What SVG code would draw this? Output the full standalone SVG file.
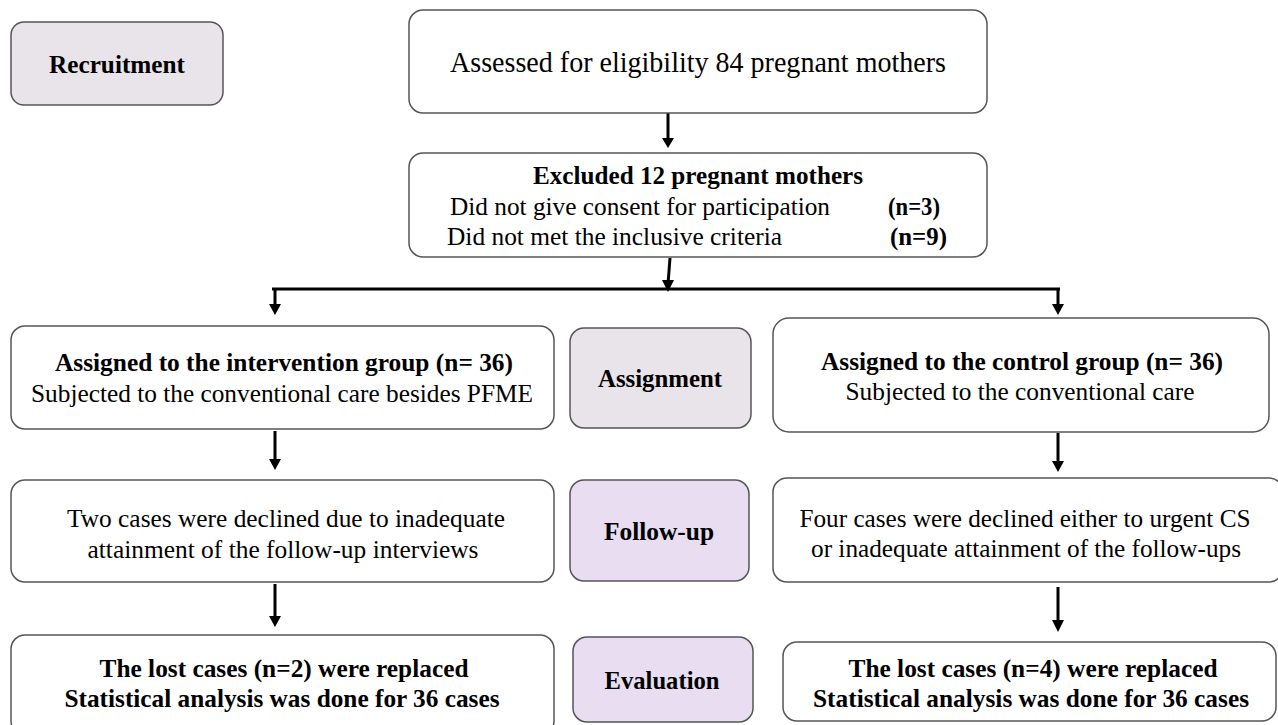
<svg xmlns="http://www.w3.org/2000/svg" width="1278" height="725" viewBox="0 0 1278 725">
<style>
.box{fill:#fff;stroke:#555;stroke-width:1.5}
.lab{fill:#e8e4ea;stroke:#555;stroke-width:1.5}
.lab2{fill:#e9ddf2;stroke:#555;stroke-width:1.5}
.b{font-weight:bold}
.c{stroke:#000;stroke-width:3;fill:none}
</style>
<rect width="1278" height="725" fill="#fff"/>
<g id="connectors">
<line class="c" x1="668" y1="113" x2="668" y2="140"/><path d="M662,138 L674,138 L668,148 Z"/>
<line class="c" x1="670" y1="258" x2="668" y2="284"/><path d="M662,280 L674,280 L668,292 Z"/>
<line class="c" x1="272" y1="289" x2="1060" y2="289"/>
<line class="c" x1="275" y1="289" x2="275" y2="306"/><path d="M269,304 L281,304 L275,315 Z"/>
<line class="c" x1="1058" y1="289" x2="1058" y2="306"/><path d="M1052,304 L1064,304 L1058,315 Z"/>
<line class="c" x1="275" y1="431" x2="275" y2="461"/><path d="M269,459 L281,459 L275,470 Z"/>
<line class="c" x1="1058" y1="433" x2="1058" y2="463"/><path d="M1052,461 L1064,461 L1058,472 Z"/>
<line class="c" x1="275" y1="584" x2="275" y2="618"/><path d="M269,616 L281,616 L275,627 Z"/>
<line class="c" x1="1058" y1="587" x2="1058" y2="622"/><path d="M1052,620 L1064,620 L1058,632 Z"/>
</g>
<g font-family="Liberation Serif, Times New Roman, serif" font-size="26" fill="#000">
<g id="recruitment"><rect class="lab" x="11" y="22" width="212" height="83" rx="13"/><text class="b" x="117" y="73" text-anchor="middle" textLength="136" lengthAdjust="spacingAndGlyphs">Recruitment</text></g>
<g id="assessed"><rect class="box" x="409" y="10" width="578" height="103" rx="14"/><text x="698" y="72" text-anchor="middle" font-size="29" textLength="496" lengthAdjust="spacingAndGlyphs">Assessed for eligibility 84 pregnant mothers</text></g>
<g id="excluded" font-size="25"><rect class="box" x="409" y="153" width="578" height="104" rx="14"/>
<text class="b" x="698" y="184" text-anchor="middle" textLength="330" lengthAdjust="spacingAndGlyphs">Excluded 12 pregnant mothers</text>
<text x="450" y="215" textLength="380" lengthAdjust="spacingAndGlyphs">Did not give consent for participation</text>
<text class="b" x="888" y="215" textLength="52" lengthAdjust="spacingAndGlyphs">(n=3)</text>
<text x="447" y="245" textLength="335" lengthAdjust="spacingAndGlyphs">Did not met the inclusive criteria</text>
<text class="b" x="890" y="245" textLength="57" lengthAdjust="spacingAndGlyphs">(n=9)</text></g>
<g id="intervention"><rect class="box" x="11" y="326" width="543" height="103" rx="14"/>
<text class="b" x="284" y="371" text-anchor="middle" textLength="458" lengthAdjust="spacingAndGlyphs">Assigned to the intervention group (n= 36)</text>
<text x="282" y="402" text-anchor="middle" textLength="502" lengthAdjust="spacingAndGlyphs">Subjected to the conventional care besides PFME</text></g>
<g id="assignment"><rect class="lab" x="570" y="328" width="181" height="100" rx="14"/><text class="b" x="660" y="387" text-anchor="middle" textLength="124" lengthAdjust="spacingAndGlyphs">Assignment</text></g>
<g id="control"><rect class="box" x="773" y="318" width="496" height="114" rx="16"/>
<text class="b" x="1022" y="370" text-anchor="middle" textLength="402" lengthAdjust="spacingAndGlyphs">Assigned to the control group (n= 36)</text>
<text x="1020" y="400" text-anchor="middle" textLength="349" lengthAdjust="spacingAndGlyphs">Subjected to the conventional care</text></g>
<g id="followup-left"><rect class="box" x="11" y="480" width="543" height="102" rx="14"/>
<text x="286" y="527" text-anchor="middle" textLength="438" lengthAdjust="spacingAndGlyphs">Two cases were declined due to inadequate</text>
<text x="283" y="558" text-anchor="middle" textLength="391" lengthAdjust="spacingAndGlyphs">attainment of the follow-up interviews</text></g>
<g id="followup"><rect class="lab2" x="570" y="480" width="179" height="101" rx="14"/><text class="b" x="659" y="540" text-anchor="middle" textLength="110" lengthAdjust="spacingAndGlyphs">Follow-up</text></g>
<g id="followup-right"><rect class="box" x="773" y="478" width="510" height="104" rx="14"/>
<text x="1025" y="527" text-anchor="middle" textLength="451" lengthAdjust="spacingAndGlyphs">Four cases were declined either to urgent CS</text>
<text x="1026" y="557" text-anchor="middle" textLength="430" lengthAdjust="spacingAndGlyphs">or inadequate attainment of the follow-ups</text></g>
<g id="lost-left"><rect class="box" x="11" y="635" width="543" height="100" rx="14"/>
<text class="b" x="284" y="677" text-anchor="middle" textLength="369" lengthAdjust="spacingAndGlyphs">The lost cases (n=2) were replaced</text>
<text class="b" x="282" y="707" text-anchor="middle" textLength="435" lengthAdjust="spacingAndGlyphs">Statistical analysis was done for 36 cases</text></g>
<g id="evaluation"><rect class="lab2" x="573" y="637" width="180" height="85" rx="14"/><text class="b" x="662" y="689" text-anchor="middle" textLength="115" lengthAdjust="spacingAndGlyphs">Evaluation</text></g>
<g id="lost-right"><rect class="box" x="783" y="642" width="493" height="79" rx="14"/>
<text class="b" x="1033" y="677" text-anchor="middle" textLength="369" lengthAdjust="spacingAndGlyphs">The lost cases (n=4) were replaced</text>
<text class="b" x="1031" y="707" text-anchor="middle" textLength="436" lengthAdjust="spacingAndGlyphs">Statistical analysis was done for 36 cases</text></g>
</g>
</svg>
